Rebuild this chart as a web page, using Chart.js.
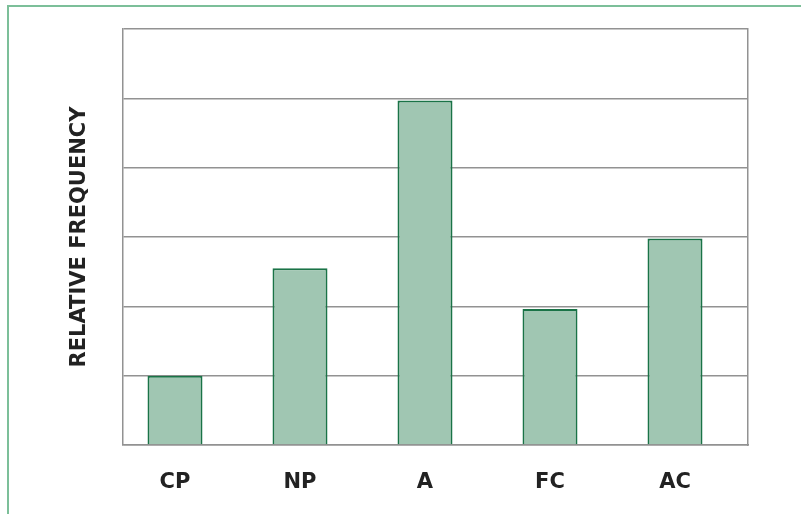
<!DOCTYPE html>
<html>
<head>
<meta charset="utf-8">
<script src="https://cdn.jsdelivr.net/npm/chart.js@4/dist/chart.umd.min.js"></script>
<style>
    html, body { margin: 0; padding: 0; background: #fff; }
    #wrap { position: relative; width: 801px; height: 514px; overflow: hidden; }
    #frame {
        position: absolute; left: 7px; top: 5px; width: 900px; height: 600px;
        border-left: 2px solid #7cbf99; border-top: 2px solid #7cbf99;
    }
    canvas { position: absolute; left: 0; top: 0; }
</style>
</head>
<body>
<div id="wrap">
    <div id="frame"></div>
    <canvas id="chart" width="801" height="514"></canvas>
</div>
<script>
const categories = ['CP', 'NP', 'A', 'FC', 'AC'];
const frequencies = [1, 2.55, 4.97, 1.96, 2.98];
const yTicks = [0, 1, 2, 3, 4, 5, 6];

const gridGray = '#929292';
const labelFont = { family: 'DejaVu Sans', weight: 'bold', size: 21 };

new Chart(document.getElementById('chart'), {
    type: 'bar',
    data: {
        datasets: [{
            data: frequencies.map((v, i) => ({ x: i, y: v })),
            backgroundColor: '#a0c6b2',
            borderColor: '#1a7347',
            borderWidth: 2,
            barPercentage: 0.44,
            categoryPercentage: 1
        }]
    },
    options: {
        responsive: false,
        animation: false,
        layout: { padding: { top: 29, right: 0, bottom: 0, left: 0 } },
        plugins: { legend: { display: false }, tooltip: { enabled: false } },
        scales: {
            x: {
                type: 'linear',
                offset: false,
                min: -0.416,
                max: 4.584,
                grid: { display: false, drawTicks: false },
                border: { display: true, color: gridGray, width: 1.5 },
                afterBuildTicks: s => { s.ticks = categories.map((c, i) => ({ value: i })); },
                afterFit: s => { s.height = 69; },
                ticks: {
                    padding: 25,
                    color: '#222',
                    font: labelFont,
                    callback: v => categories[v]
                }
            },
            y: {
                min: 0,
                max: 6,
                afterBuildTicks: s => { s.ticks = yTicks.map(v => ({ value: v })); },
                afterFit: s => { s.width = 123; },
                grid: { color: gridGray, lineWidth: 1.5, drawTicks: false },
                border: { display: true, color: gridGray, width: 1.5 },
                ticks: { display: false },
                title: {
                    display: true,
                    text: 'RELATIVE FREQUENCY',
                    color: '#222',
                    font: labelFont,
                    padding: { top: 67, bottom: 0 }
                }
            },
            y2: {
                position: 'right',
                min: 0,
                max: 6,
                grid: { display: false, drawTicks: false },
                border: { display: true, color: gridGray, width: 1.5 },
                ticks: { display: false },
                afterFit: s => { s.width = 53; }
            }
        }
    }
});
</script>
</body>
</html>
